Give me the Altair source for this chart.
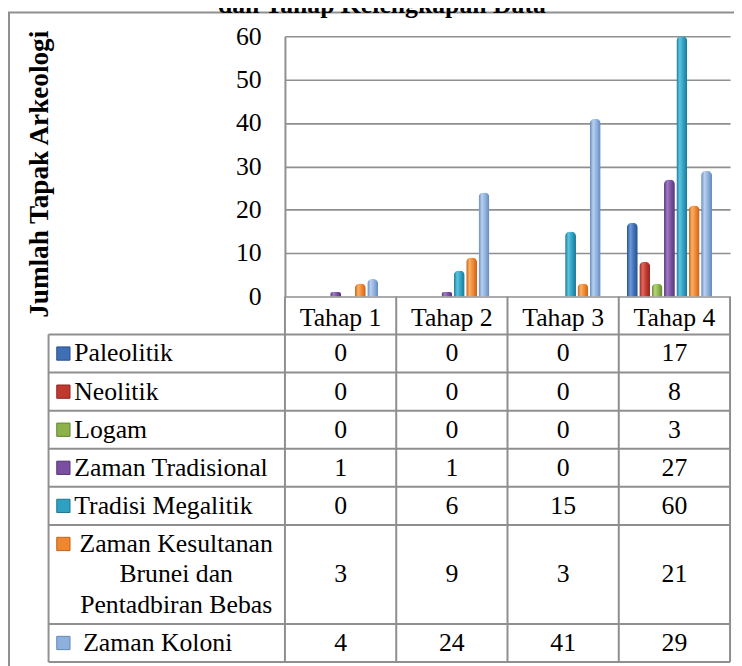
import altair as alt
import pandas as pd

# ---------------- data ----------------
tahap = ["Tahap 1", "Tahap 2", "Tahap 3", "Tahap 4"]
series = ["Paleolitik", "Neolitik", "Logam", "Zaman Tradisional", "Tradisi Megalitik",
          "Zaman Kesultanan Brunei dan Pentadbiran Bebas", "Zaman Koloni"]
legend_text = ["Paleolitik", "Neolitik", "Logam", "Zaman Tradisional", "Tradisi Megalitik",
               "Zaman Kesultanan\nBrunei dan\nPentadbiran Bebas", " Zaman Koloni"]

paleolitik = [0, 0, 0, 17]
neolitik = [0, 0, 0, 8]
logam = [0, 0, 0, 3]
tradisional = [1, 1, 0, 27]
megalitik = [0, 6, 15, 60]
kesultanan = [3, 9, 3, 21]
koloni = [4, 24, 41, 29]
series_values = [paleolitik, neolitik, logam, tradisional, megalitik, kesultanan, koloni]

title_text = "dan Tahap Kelengkapan Data"
y_title = "Jumlah Tapak Arkeologi"
y_ticks = [0, 10, 20, 30, 40, 50, 60]

# colours: (dark, light, base)
palette = [
    ("#27508C", "#6E9BDB", "#3F6FB5"),
    ("#8E2620", "#E2665C", "#C0392F"),
    ("#5F8230", "#B5D67A", "#8DB24A"),
    ("#55357A", "#A07CC3", "#7A4FA0"),
    ("#1D7592", "#5CC4E0", "#2EA0C2"),
    ("#C0631A", "#FBAF66", "#F0862E"),
    ("#6187BB", "#B9D0EE", "#8EB0DD"),
]

FONT = "Liberation Serif, Times New Roman, DejaVu Serif, serif"
FS = 26
GRID = "#8f8f8f"
W, H = 450, 263

# ---------------- long-form data ----------------
long_rows = []
for s, vals in zip(series, series_values):
    for t, v in zip(tahap, vals):
        long_rows.append({"series": s, "tahap": t, "value": v})
bars_df = pd.DataFrame(long_rows)

# table geometry in "line units"
nlines = [lbl.count("\n") + 1 for lbl in legend_text]
indent = [1 if lbl.startswith(" ") else 0 for lbl in legend_text]
PADU = 0.25
header_h = 1 + PADU
tops, bottoms = [], []
cur = header_h
for n in nlines:
    tops.append(cur)
    cur += n + PADU
    bottoms.append(cur)
total_u = cur
UNIT = 30.8
tscale = alt.Scale(domain=[0, total_u], range=[H, H + total_u * UNIT], nice=False, zero=False)

rows_df = pd.DataFrame({
    "series": series,
    "label": [lbl.strip() for lbl in legend_text],
    "nl": nlines,
    "ind": indent,
    "mid": [(a + b) / 2 for a, b in zip(tops, bottoms)],
    "mk": [a + PADU / 2 + 0.5 for a in tops],
    "bottom": bottoms,
})
mid_map = dict(zip(series, rows_df["mid"]))
cells_df = bars_df.copy()
cells_df["mid"] = cells_df["series"].map(mid_map)
header_df = pd.DataFrame({"tahap": tahap, "mid": [header_h / 2] * len(tahap)})
hlines_df = pd.DataFrame({"y": [header_h] + bottoms})
vlines_df = pd.DataFrame({"tahap": tahap, "y0": [0] * len(tahap), "y1": [total_u] * len(tahap)})
edge_df = pd.DataFrame({"y0": [0], "y1": [total_u], "ly0": [header_h]})

xscale = alt.Scale(domain=tahap, paddingInner=0, paddingOuter=0)
xoscale = alt.Scale(domain=series, paddingInner=0, paddingOuter=1, align=0.3)

yaxis = alt.Axis(values=y_ticks, ticks=False, labelPadding=24, labelFont=FONT, labelFontSize=FS,
                 labelColor="black", domainColor=GRID, domainWidth=2, gridColor=GRID, gridWidth=1.6,
                 title=y_title, titleFont=FONT, titleFontSize=27.5, titleFontWeight="bold",
                 titleColor="black", titleAngle=270, titleX=-248, titleY=139,
                 titleAlign="center", titleBaseline="middle")

# ---------------- bars (one layer per series for the cylinder shading) ----------------
bar_layers = []
for s, (dark, light, base) in zip(series, palette):
    grad = alt.Gradient(gradient="linear", x1=0, x2=1, y1=0, y2=0,
                        stops=[alt.GradientStop(color=dark, offset=0),
                               alt.GradientStop(color=light, offset=0.3),
                               alt.GradientStop(color=base, offset=0.65),
                               alt.GradientStop(color=dark, offset=1)])
    bar_layers.append(
        alt.Chart(bars_df).transform_filter(alt.datum.series == s)
        .mark_bar(color=grad, width=11, cornerRadiusTopLeft=5, cornerRadiusTopRight=5)
        .encode(
            x=alt.X("tahap:N", scale=xscale, axis=None),
            xOffset=alt.XOffset("series:N", scale=xoscale),
            y=alt.Y("value:Q", scale=alt.Scale(domain=[0, 60], nice=False), axis=yaxis),
        )
    )
bars = alt.layer(*bar_layers)

# ---------------- table ----------------
def ty(field):
    return alt.Y(field, type="quantitative", scale=tscale, axis=None)

hlines = alt.Chart(hlines_df).mark_rule(color=GRID, strokeWidth=2).encode(
    x=alt.value(-239), x2=alt.value(W), y=ty("y"))
vlines = alt.Chart(vlines_df).mark_rule(color=GRID, strokeWidth=2).encode(
    x=alt.X("tahap:N", scale=xscale, axis=None, bandPosition=0), y=ty("y0"), y2=alt.Y2("y1"))
right_edge = alt.Chart(edge_df).mark_rule(color=GRID, strokeWidth=2).encode(
    x=alt.value(W), y=ty("y0"), y2=alt.Y2("y1"))
left_edge = alt.Chart(edge_df).mark_rule(color=GRID, strokeWidth=2).encode(
    x=alt.value(-239), y=ty("ly0"), y2=alt.Y2("y1"))

header = alt.Chart(header_df).mark_text(font=FONT, fontSize=FS, color="black", baseline="middle", dy=3).encode(
    x=alt.X("tahap:N", scale=xscale, axis=None), y=ty("mid"), text="tahap:N")
cells = alt.Chart(cells_df).mark_text(font=FONT, fontSize=FS, color="black", baseline="middle").encode(
    x=alt.X("tahap:N", scale=xscale, axis=None), y=ty("mid"), text="value:Q")
labels1 = alt.Chart(rows_df).transform_filter((alt.datum.nl == 1) & (alt.datum.ind == 0)).mark_text(
    font=FONT, fontSize=FS, color="black", baseline="middle", align="left").encode(
    x=alt.value(-213), y=ty("mid"), text="label:N")
labels_ind = alt.Chart(rows_df).transform_filter((alt.datum.nl == 1) & (alt.datum.ind == 1)).mark_text(
    font=FONT, fontSize=FS, color="black", baseline="middle", align="left").encode(
    x=alt.value(-204), y=ty("mid"), text="label:N")
labels3 = alt.Chart(rows_df).transform_filter(alt.datum.nl > 1).mark_text(
    font=FONT, fontSize=FS, color="black", baseline="middle", align="center",
    lineBreak="\n", lineHeight=UNIT).encode(
    x=alt.value(-110), y=ty("mk"), text="label:N")
markers = alt.Chart(rows_df).mark_square(size=180, opacity=1, strokeWidth=1).encode(
    x=alt.value(-224), y=ty("mk"),
    fill=alt.Fill("series:N", scale=alt.Scale(domain=series, range=[p[2] for p in palette]), legend=None),
    stroke=alt.Stroke("series:N", scale=alt.Scale(domain=series, range=[p[0] for p in palette]), legend=None))

# ---------------- frame & clipped title ----------------
one = pd.DataFrame({"t": [title_text]})
frame_top = alt.Chart(one).mark_rule(color=GRID, strokeWidth=2).encode(
    x=alt.value(-280), x2=alt.value(W + 4), y=alt.value(-24))
frame_left = alt.Chart(one).mark_rule(color=GRID, strokeWidth=2).encode(
    x=alt.value(-279), y=alt.value(-24), y2=alt.value(H + 400))
title = alt.Chart(one).mark_text(font=FONT, fontSize=26, fontWeight="bold", color="black",
                                 align="center", baseline="alphabetic").encode(
    x=alt.value(98), y=alt.value(-24), text="t:N")

chart = alt.layer(
    frame_top, frame_left, title, bars,
    hlines, vlines, right_edge, left_edge, header, cells, labels1, labels_ind, labels3, markers,
).resolve_scale(y="independent").properties(
    width=W, height=H,
    autosize=alt.AutoSizeParams(type="none"),
    padding={"left": 280, "top": 25, "right": 4, "bottom": 370},
    background="white",
).configure_view(stroke=None)

chart.save("out.html", embed_options={"renderer": "svg", "actions": False})
